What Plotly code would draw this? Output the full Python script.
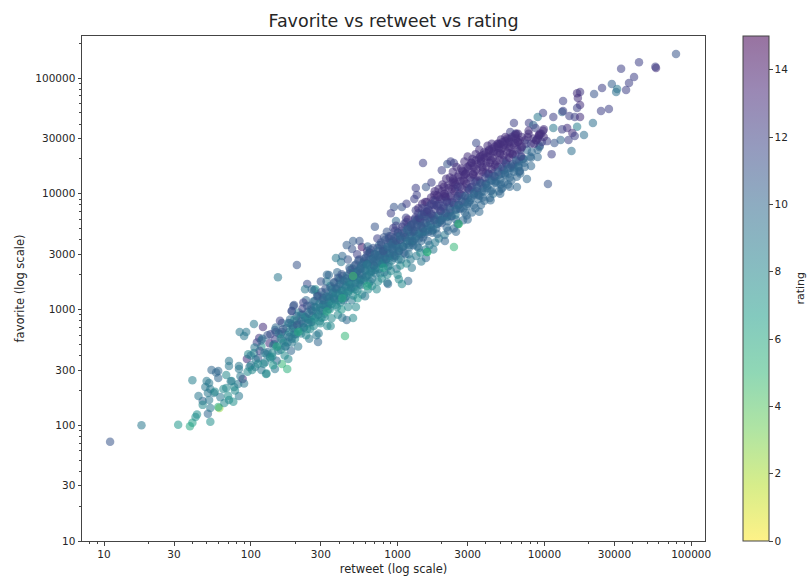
import plotly.graph_objects as go

retweet = [
 11,18,32,38.5,40,42,43,53,61,51,53,60,66,71,76,83,47,44,40,49,50,52,53,51,56,65,54,60,60,68,74,77,82,88,71,71,83,83,94,107,98,127,146,105,121,84,93,90,114,146,163,163,180,195,190,163,177,180,
 153,206,438,2420,497,944,1070,975,935,571,497,450,490,620,380,412,340,242,234,270,197,190,287,450,497,1180,860,1070,1020,1560,1590,2600,
 1490,1330,1350,1560,2180,2420,3430,10570,11200,15300,13400,13200,6200,7850,9780,9000,11500,8400,5850,7600,6500,5100,9000,9250,8110,6800,
 78800,57600,57000,44100,33300,40800,37700,36000,28800,31300,30800,24700,21800,27500,24300,21400,18600,17500,16700,16900,17500,16700,13400,14800,16100,17500,14300,13200,16700,15500,14600,16100,12900,11700,10400,9300,9800,9200,11500,
 100,105,112,118,125,96,110,130,120,135,
 140,145,150,155,160,165,170,148,158,172,
 178,182,188,195,200,205,210,185,198,215,
 220,225,230,238,245,250,258,228,242,262,
 268,272,280,285,290,298,305,275,295,310,
 318,325,332,340,348,355,362,328,345,368,
 378,385,392,400,408,415,425,388,405,430,
 445,452,460,470,478,488,498,458,475,500,
 515,525,535,548,560,572,585,530,555,590,
 605,618,630,645,658,670,685,625,650,690,
 705,720,735,750,765,780,795,728,760,800,
 815,830,850,870,885,900,925,845,880,930,
 945,965,985,1005,1025,1045,1075,975,1015,1080,
 1100,1125,1150,1175,1200,1225,1250,1140,1190,1260,
 1280,1310,1340,1370,1400,1430,1450,1330,1390,1460,
 1490,1520,1550,1590,1620,1650,1680,1540,1610,1690,
 1720,1760,1800,1840,1870,1910,1950,1780,1860,1960,
 2000,2050,2090,2130,2170,2210,2250,2070,2160,2260,
 2310,2360,2410,2460,2510,2560,2600,2390,2490,2610,
 2680,2730,2790,2840,2890,2950,3000,2760,2870,3010,
 3080,3150,3210,3270,3330,3390,3450,3180,3300,3470,
 3550,3620,3700,3770,3840,3900,3980,3660,3800,4000,
 4080,4160,4250,4330,4400,4480,4570,4200,4370,4600,
 4720,4810,4900,5000,5080,5170,5270,4860,5040,5300,
 5420,5530,5640,5750,5840,5950,6060,5590,5800,6100,
 6230,6350,6480,6600,6720,6840,6970,6420,6660,7000,
 7200,7400,7600,7800,8000,7350,7700,8100,
 152,160,168,175,183,190,198,205,212,220,228,235,
 243,250,256,264,272,279,288,296,303,310,316,322,
 335,342,350,358,365,372,380,390,398,406,414,422,
 432,442,450,462,472,482,492,502,512,520,528,535,
 542,552,565,578,590,602,612,624,635,644,652,662,
 672,686,700,714,730,746,760,772,786,798,808,820,
 835,850,866,882,898,914,930,945,960,975,990,1005,
 1020,1040,1065,1090,1110,1130,1155,1175,1195,1215,1235,1255,
 1275,1295,1320,1345,1365,1385,1410,1430,1450,1470,1490,1510,
 1530,1555,1580,1605,1630,1660,1690,1715,1740,1765,1790,1815,
 1845,1870,1900,1930,1960,1990,2020,2050,2080,2110,2140,2170,
 2200,2230,2270,2300,2340,2380,2420,2450,2480,2520,2550,2590,
 2630,2670,2710,2750,2800,2850,2880,2920,2960,3000,3040,3090,
 3120,3170,3230,3290,3340,3400,3450,3500,3550,3600,3650,3700,
 3750,3820,3890,3960,4030,4100,4170,4240,4310,4380,4450,4520,
 4620,4700,4790,4880,4970,5060,5150,5240,5330,5420,5510,5600,
 5700,5830,5960,6090,6220,6350,6480,6610,6740,6870,7000,7130,
 7300,7500,7800,8100,8400,8700,9000,9300,9600,9900,8200,8800,
 47,52,57,62,68,73,78,85,90,95,58,70,
 102,108,115,122,128,134,140,118,128,142,136,146,
 190,194,198,203,207,212,216,221,225,230,234,238,242,246,250,254,
 258,263,268,273,278,283,288,293,298,303,308,313,318,323,328,333,
 338,344,350,356,362,368,374,380,386,392,398,404,410,416,422,428,
 436,444,452,460,468,476,484,492,500,508,516,524,532,540,548,556,
 566,574,582,592,600,608,618,628,636,646,654,664,672,682,690,698,
 710,722,736,748,760,774,786,800,812,824,838,850,862,874,886,898,
 912,930,948,966,984,1002,1020,1040,1058,1076,1094,1112,1130,1148,1166,1184,
 1204,1222,1240,1262,1282,1302,1322,1344,1364,1384,1404,1426,1446,1466,1488,1508,
 1530,1554,1578,1602,1626,1652,1676,1702,1726,1752,1778,1804,1830,1856,1882,1910,
 1940,1970,2000,2030,2065,2100,2130,2165,2200,2235,2270,2305,2340,2375,2410,2445,
 2480,2520,2560,2600,2640,2680,2720,2765,2810,2855,2900,2945,2990,3035,3080,3125,
 3170,3220,3275,3330,3385,3440,3495,3550,3610,3670,3730,3790,3850,3910,3970,4030,
 4100,4170,4240,4310,4380,4450,4530,4610,4690,4770,4850,4930,5010,5100,5190,5280,
 5370,5460,5560,5660,5760,5860,5970,6080,6190,6300,6420,6540,6660,6780,6900,7030,
 100,106,112,118,124,130,136,142,148,154,160,166,172,178,184,190,
 2000,2200,2400,2600,2800,3000,3200,3400,3600,3800,4000,4200,4400,4600,4800,5000,5200,5400,5700,6000,6300,6600,
 2100,2500,2900,3300,3700,4100,4500,4900,5300,5800,6400,
 8500,9000,9500,9900,8800,9200,
 500,560,620,680,740,800,860,920,980,1040,1100,1160,1220,1280,1340,1400,1460,1520,1600,1700,1800,1900,
 260,330,300,420,550,700,900,1150,1300,1700,2000,2300,
 280,350,420,520,600,720,850,1000,1250,1450,1750,2100,2500,3000,3600,4300,5000,5800,
 497,1590,2600,330,420,620,210,150,800,
]
favorite = [
 72,100,101,98,105,118,124,107,141,126,141,144,156,165,160,179,162,179,245,214,241,232,206,190,190,206,300,294,256,272,241,214,227,251,359,325,325,306,373,318,318,277,306,750,706,640,640,590,567,665,764,640,764,1070,970,338,306,373,
 1900,2420,590,3467,1947,7690,7690,5820,5060,3470,3900,3600,3330,3200,2790,2570,1990,1660,1500,1470,1095,970,524,810,845,1760,1660,1660,1830,2790,3140,5480,
 18450,11200,9750,11430,18070,18450,27400,12130,22000,23400,63200,50900,40900,40900,49900,46000,46000,39300,34100,13400,11430,11000,20800,25400,17400,15700,
 161000,122000,125000,137000,120000,102000,90600,78700,88700,80300,75700,82000,72800,54000,51900,40900,32200,75700,74000,67100,58500,55100,51900,47000,46000,46000,37000,36000,38000,33500,29100,31500,29100,27400,28500,26000,35000,32000,37000,
 330,420,380,480,350,410,520,430,560,390,
 420,500,360,620,450,540,400,700,800,480,
 520,640,440,720,560,880,480,820,640,760,
 620,900,700,1200,820,560,1000,1150,680,780,
 720,1050,870,1350,620,980,1200,1500,790,1100,
 920,1300,720,1150,1600,840,1400,1750,1000,1250,
 1100,1500,900,1850,1250,1000,1650,2100,1400,1200,
 1300,1750,1050,2300,1500,1200,1900,2700,1650,2100,
 1500,2100,1250,2700,1800,1350,2300,3000,1650,2600,
 1900,2500,1500,3100,2100,1600,2800,3500,1750,2400,
 2200,2900,1750,3600,2500,1850,3200,4100,2050,2700,
 2500,3300,2000,4100,2800,2150,3600,4700,2400,3100,
 2800,3700,2250,4600,3200,2400,4100,5300,2700,3500,
 3100,4200,2500,5200,3600,2700,4600,6200,3000,3900,
 3600,4800,2900,6000,4100,3100,5300,7200,3400,4500,
 4200,5500,3300,7000,4700,3600,6200,8500,3900,5100,
 4800,6400,3800,8000,5500,4100,7100,9800,4500,5900,
 5600,7400,4400,9300,6300,4800,8300,11500,5100,6900,
 6400,8500,5000,11000,7300,5500,9600,13500,6000,8000,
 7400,9800,5900,12800,8500,6500,11200,15800,6900,9200,
 8500,11300,6900,14800,9800,7500,13000,18500,8000,10500,
 9800,13000,8000,17000,11200,8700,15000,21000,9300,12200,
 11200,15000,9200,19500,13000,10000,17200,24000,10700,14000,
 12800,17000,10500,22000,14800,11300,19500,27000,12000,16000,
 14500,19500,12000,25000,16800,13000,22000,30000,13800,18000,
 16500,22000,14000,28000,19000,15000,25000,33000,17500,21000,
 20000,29000,24000,35000,21000,17000,31000,27000,
 480,610,520,690,580,740,610,800,680,900,760,850,
 950,820,1080,880,1180,960,1300,1040,850,1250,1100,1400,
 1080,1300,1180,1500,1280,1700,1380,1560,1200,1800,1450,1950,
 1350,1600,1850,1450,2050,1700,2250,1550,1950,2450,1800,2150,
 1700,2050,2400,1850,2750,2150,2500,3000,2000,2700,3300,2300,
 2150,2600,3000,2300,3400,2650,2950,3800,2500,3300,4200,2850,
 2700,3100,3700,2900,4300,3350,3900,2950,4800,3500,4300,3100,
 3400,4000,4800,3500,5500,4200,3700,6000,4700,3900,5400,4300,
 3900,4800,6200,4300,5400,7500,4600,6000,5200,8200,4700,6700,
 4700,6400,8500,5300,7200,5800,9300,6500,4900,8000,10500,6000,
 5500,7800,11000,6400,9000,5900,12000,7600,10000,6500,13500,8500,
 6400,9500,13800,7200,11000,15500,8000,12500,6600,17000,9500,14000,
 7500,11500,16500,8500,13000,19000,9500,15000,7800,21000,11000,17500,
 8800,13000,20000,10000,15500,22000,11500,18000,9000,24000,12500,20000,
 10500,16000,23000,12000,18500,26000,13500,21000,10500,27000,15000,23500,
 12500,19000,27000,14500,22500,29500,16500,25000,12500,31000,18000,27000,
 15000,22500,30000,17000,26000,33000,19000,28000,15500,24000,31000,20000,
 18500,27000,33000,20500,30000,37000,24000,33000,28000,31000,23000,29000,
 150,165,195,175,210,240,200,265,230,290,285,180,
 300,370,440,340,410,510,390,300,280,330,610,550,
 560,690,820,610,740,940,650,790,1020,700,860,600,1080,760,920,680,
 780,970,1180,840,1040,1300,900,1120,760,1420,980,1200,860,1520,1060,1280,
 1010,1240,1550,1120,1380,1720,1220,1520,1050,1880,1340,1660,1150,2020,1450,1780,
 1260,1560,1960,1400,1730,2200,1540,1900,1320,2400,1700,2100,1450,2650,1860,2300,
 1620,2000,2500,1780,2200,2800,1960,2450,1680,3100,2150,2700,1850,3400,2400,3000,
 2050,2550,3200,2250,2800,3600,2480,3100,2100,4000,2750,3450,2350,4300,3050,3800,
 2650,3300,4100,2900,3600,4600,3200,4000,2700,5200,3500,4400,3000,5700,3900,4900,
 3450,4300,5400,3800,4700,6000,4100,5200,3500,6800,4500,5800,3900,7500,5000,6400,
 4500,5600,7000,4900,6100,7900,5400,6700,4600,8800,5900,7400,5000,9700,6500,8200,
 5700,7100,9000,6200,7800,10000,6800,8600,5800,11200,7500,9500,6400,12500,8300,10500,
 7300,9100,11500,8000,10000,12800,8700,11000,7500,14500,9600,12200,8200,16500,10800,13800,
 9200,11500,14500,10200,12700,16300,11200,14000,9600,18300,12300,15500,10400,20500,13800,17300,
 11800,14800,18500,13000,16300,20500,14200,17800,12300,22500,15500,19500,13300,24500,17000,21500,
 15000,18500,23000,16500,20500,25500,17500,22000,15500,27500,19500,24000,17000,29000,21000,25500,
 400,470,340,540,420,600,380,490,640,440,560,680,480,600,760,520,
 10500,11800,13000,14500,15500,17000,18500,19500,20500,21500,22500,23500,24500,25500,26000,27000,28000,28500,29500,31000,32000,33000,
 9500,12000,14800,17000,19000,21000,23000,25000,26500,28000,30000,
 27000,30000,33000,36000,29000,32000,
 1950,2250,2450,2700,2950,3200,3450,3700,3950,4300,4600,4900,5200,5500,5900,6200,6600,7000,7400,8100,8700,9400,
 1500,2000,1750,2900,3900,5200,6800,8200,9000,12500,16000,19000,
 600,720,850,1050,1300,1500,1700,2000,2300,2600,3300,3900,4700,6000,7000,8800,10000,11500,
 1947,3140,5480,960,1250,1600,640,480,2300,
]
rating = [
 11,9,7,6,6.5,7.5,7.5,7.5,2.5,10,9,6,8,8,7.5,9,10,9,8.5,9,9,9,9,9,9,8,10,10,10,8,8,8,9,13,9,9,9,9,13,9,9,8,9,9,13,9,9,9,12.5,10,10,11,9,11,12,5,5.5,8,
 9,11,5,5,4.5,11,11,10,12,14,10.5,10.5,11,13,9,9,10,11.5,9,9,11,11,10,10,8,10,10,8,8,10,5.5,5,
 12,12,12,11,11,12,11.5,11,12,9.5,12,10,12,12,12,9,12,10,12,10,10,10,10,10,10,11,
 11,13,12,12,12,12,12,12,10.5,9,9.5,12,11,12,12,9.5,9.5,12.5,13,13,13,12,12,12,12,13,13,12,8.5,13,12,12,10,11,12,11,13,13,9,
 9,8,11,7,9,8,12,10,9,8,
 8,9,10,8,7,11,8,10,12,9,
 9,8,10,8,8,11,9,10,7,8,
 9,11,8,10,8,9,8,12,8,7,
 8,10,8,9,9,8,11,8,8,10,
 9,8,8,10,8,8,11,9,7,9,
 8,10,8,9,11,7,9,10,8,10,
 9,8,8,10,7,9,9,11,8,10,
 9,8,7,11,10,8,9,12,8,10,
 10,9,8,11,8,8,10,10,9,9,
 10,11,8,10,9,8,10,12,8,9,
 11,10,8,12,10,8,10,11,8,10,
 10,10,9,12,10,8,11,12,9,10,
 11,10,8,12,9,9,11,12,9,10,
 10,11,9,12,10,8,11,12,9,10,
 11,10,9,12,11,9,12,13,10,10,
 10,11,9,12,11,9,12,13,10,11,
 11,12,9,13,10,10,12,13,10,11,
 11,12,10,13,11,10,12,13,10,11,
 11,12,10,13,11,10,12,13,10,11,
 10,12,10,13,11,10,12,13,10,11,
 11,12,10,13,11,10,12,13,10,11,
 10,12,10,13,11,9.5,13,13,10,11,
 10,12,10,13,11,10,13,13,10,11,
 10,12,10,13,11,10,13,13,10,11,
 10,12,10,13,11,10,13,13,10,12,
 10,13,10,13,10,10,13,12,
 9,10,8,9,10,8,9,11,8,9,10,8,
 9,8,10,8,9,8,10,9,8,10,8,9,
 9,10,8,9,10,9,8,10,9,9,8,10,
 8,9,10,9,10,8,9,9,10,10,8,9,
 9,10,9,8,11,9,10,11,8,10,11,9,
 9,10,10,8,11,9,10,11,8,10,11,9,
 9,10,11,9,12,10,10,9,12,10,11,9,
 9,10,12,9,12,10,9,13,10,9,12,10,
 9,10,12,9,11,13,9,12,10,13,9,12,
 9,11,13,9,12,10,13,11,9,13,13,10,
 9,12,13,9,13,10,13,11,13,10,13,12,
 9,12,13,10,13,13,10,13,9,13,11,13,
 10,12,13,10,13,13,10,13,10,13,11,13,
 10,12,13,10,13,13,10,13,10,13,11,13,
 10,13,13,10,13,13,10,13,10,13,11,13,
 10,13,13,10,13,13,10,13,10,13,11,13,
 10,13,12,10,13,12,10,13,10,12,13,10,
 10,12,13,10,13,12,10,13,12,13,10,12,
 8,9,8,9,8,9,8,9,9,8,10,7.5,
 8,9,12,8,9,13,8,9,8,7,12,12,
 9,10,8,9,11,9,8,10,12,9,9,8,11,9,10,8,
 9,10,10,8,9,11,9,9,8,11,9,10,8,11,9,10,
 9,9,10,8,9,11,9,10,8,11,9,10,8,11,9,10,
 9,9,10,8,9,11,9,10,8,11,9,10,8,11,9,10,
 9,10,10,9,9,11,9,10,8,11,9,10,9,11,10,10,
 9,10,10,9,10,11,9,10,9,11,10,10,9,11,10,11,
 9,10,11,10,10,11,10,11,9,12,10,11,10,12,10,11,
 10,10,11,10,11,12,10,11,10,12,10,11,10,12,11,12,
 10,11,12,10,11,12,10,12,10,13,11,12,10,13,11,12,
 10,12,12,10,12,13,11,12,10,13,11,13,10,13,12,13,
 10,12,12,10,12,13,11,13,10,13,11,13,10,13,12,13,
 10,12,13,10,12,13,11,13,10,13,11,13,10,13,12,13,
 10,12,13,10,13,13,11,13,10,13,11,13,10,13,12,13,
 10,12,13,10,13,13,11,13,10,13,11,13,10,13,12,13,
 9,9,8,10,9,11,8,9,11,9,8,11,9,9,10,9,
 13,13,13,13,13,13,13,13,13,13,13,13,13,13,13,13,13,13,13,13,13,13,
 13,13,13,13,13,13,13,13,13,13,13,
 13,13,13,13,13,13,
 10,10,9,10,10,11,10,10,11,10,11,10,11,11,11,12,11,12,12,12,12,13,
 10,10,11,10,11,11,12,12,12,12,12,12,
 9,8,9,8,9,8,9,8,9,9,9,10,10,10,10,10,10,10,
 4.5,5.5,5,6,6,6,6,6,6.5,
]
tick_vals = [10, 30, 100, 300, 1000, 3000, 10000, 30000, 100000]
tick_text = ["10", "30", "100", "300", "1000", "3000", "10000", "30000", "100000"]
minor_x = [8,9,20,40,50,60,70,80,90,200,400,500,600,700,800,900,2000,4000,5000,6000,7000,8000,9000,
           20000,40000,50000,60000,70000,80000,90000]
minor_y = [20,40,50,60,70,80,90,200,400,500,600,700,800,900,2000,4000,5000,6000,7000,8000,9000,
           20000,40000,50000,60000,70000,80000,90000,200000]

scale_colors = ["#fde725","#b5de2b","#6ece58","#35b779","#1f9e89","#26828e","#31688e","#3e4989","#482878","#440154"]
scale_alpha = []
for i, c in enumerate(scale_colors):
    r, g, b = int(c[1:3],16), int(c[3:5],16), int(c[5:7],16)
    scale_alpha.append([i/(len(scale_colors)-1), f"rgba({r},{g},{b},0.55)"])

FONT = "DejaVu Sans"
TXT = "#262626"
fig = go.Figure(go.Scatter(
    x=retweet, y=favorite, mode="markers",
    marker=dict(size=8.5, color=rating, cmin=0, cmax=15, colorscale=scale_alpha, line=dict(width=0),
                colorbar=dict(x=1.061, xanchor="left", xpad=0, ypad=0, y=0, yanchor="bottom", len=1, thickness=26,
                              tickvals=[0,2,4,6,8,10,12,14], ticks="outside", ticklen=3.5, tickwidth=1, tickcolor="#444",
                              tickfont=dict(size=10.5, family=FONT, color=TXT),
                              outlinecolor="#444", outlinewidth=1)),
    hoverinfo="skip"))

axis = dict(type="log", tickmode="array", tickvals=tick_vals, ticktext=tick_text, ticks="outside",
            ticklen=3.5, tickwidth=1, tickcolor="#444", showgrid=False, zeroline=False, showline=True,
            linecolor="#444", linewidth=1, mirror=True, tickfont=dict(size=10.5, family=FONT, color=TXT),
            automargin=False)
fig.update_layout(
    width=807, height=576, margin=dict(l=82, r=102, t=36, b=35), autosize=False,
    paper_bgcolor="white", plot_bgcolor="white", showlegend=False,
    title=dict(text="Favorite vs retweet vs rating", x=0.4876, xanchor="center", y=0.9635, yanchor="middle",
               font=dict(size=17.5, family=FONT, color=TXT)),
    xaxis=dict(axis, range=[0.850, 5.094], minor=dict(tickmode="array", tickvals=minor_x, ticks="outside", ticklen=2, tickcolor="#444"),
               title=dict(text="retweet (log scale)", standoff=9, font=dict(size=11.5, family=FONT, color=TXT))),
    yaxis=dict(axis, range=[1.0, 5.363], minor=dict(tickmode="array", tickvals=minor_y, ticks="outside", ticklen=2, tickcolor="#444"),
               title=dict(text="favorite (log scale)", standoff=8, font=dict(size=11.5, family=FONT, color=TXT))),
    annotations=[dict(text="rating", xref="paper", yref="paper", x=1.1525, y=0.5, xanchor="center", yanchor="middle",
                      textangle=-90, showarrow=False, font=dict(size=11, family=FONT, color=TXT))],
)
fig.write_html("out.html", config={"displayModeBar": False}, post_script="document.body.style.margin='0';")
